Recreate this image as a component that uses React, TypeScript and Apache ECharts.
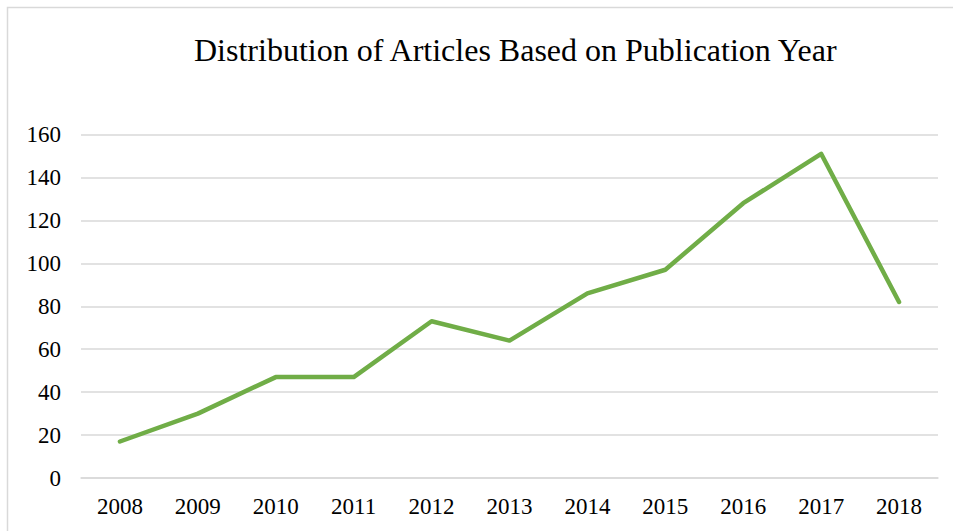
import React, { useEffect, useRef } from "react";
import * as echarts from "echarts";

const years = ["2008", "2009", "2010", "2011", "2012", "2013", "2014", "2015", "2016", "2017", "2018"];
const articles = [17, 30, 47, 47, 73, 64, 86, 97, 128, 151, 82];
const titleText = "Distribution of Articles Based on Publication Year";

export default function App() {
  const ref = useRef<HTMLDivElement>(null);
  useEffect(() => {
    if (!ref.current) return;
    const chart = echarts.init(ref.current, null, { renderer: "svg" });
    const font = "'Liberation Serif', 'Times New Roman', serif";
    chart.setOption({
      animation: false,
      backgroundColor: "#ffffff",
      title: {
        text: titleText,
        left: 189,
        top: 29,
        textStyle: { fontFamily: font, fontSize: 32, fontWeight: "normal", color: "#000000" },
      },
      graphic: [
        {
          type: "rect",
          shape: { x: 7.5, y: 7.5, width: 1200, height: 1200 },
          style: { fill: "none", stroke: "#d9d9d9", lineWidth: 1.5 },
          silent: true,
        },
      ],
      grid: { left: 81, right: 15, top: 134.5, bottom: 53, containLabel: false },
      xAxis: {
        type: "category",
        data: years,
        boundaryGap: true,
        axisLine: { show: true, lineStyle: { color: "#d9d9d9", width: 1.5 } },
        axisTick: { show: false },
        axisLabel: { fontFamily: font, fontSize: 23, color: "#000000", margin: 17 },
      },
      yAxis: {
        type: "value",
        min: 0,
        max: 160,
        interval: 20,
        axisLine: { show: false },
        axisTick: { show: false },
        axisLabel: { fontFamily: font, fontSize: 23, color: "#000000", margin: 20 },
        splitLine: { lineStyle: { color: "#d9d9d9", width: 1.5 } },
      },
      series: [
        {
          type: "line",
          data: articles,
          symbol: "none",
          lineStyle: { color: "#70ad47", width: 4.5, cap: "round", join: "round" },
        },
      ],
    });
    return () => chart.dispose();
  }, []);
  return (
    <div
      ref={ref}
      style={{ position: "absolute", left: 0, top: 0, width: 953, height: 531 }}
    />
  );
}
